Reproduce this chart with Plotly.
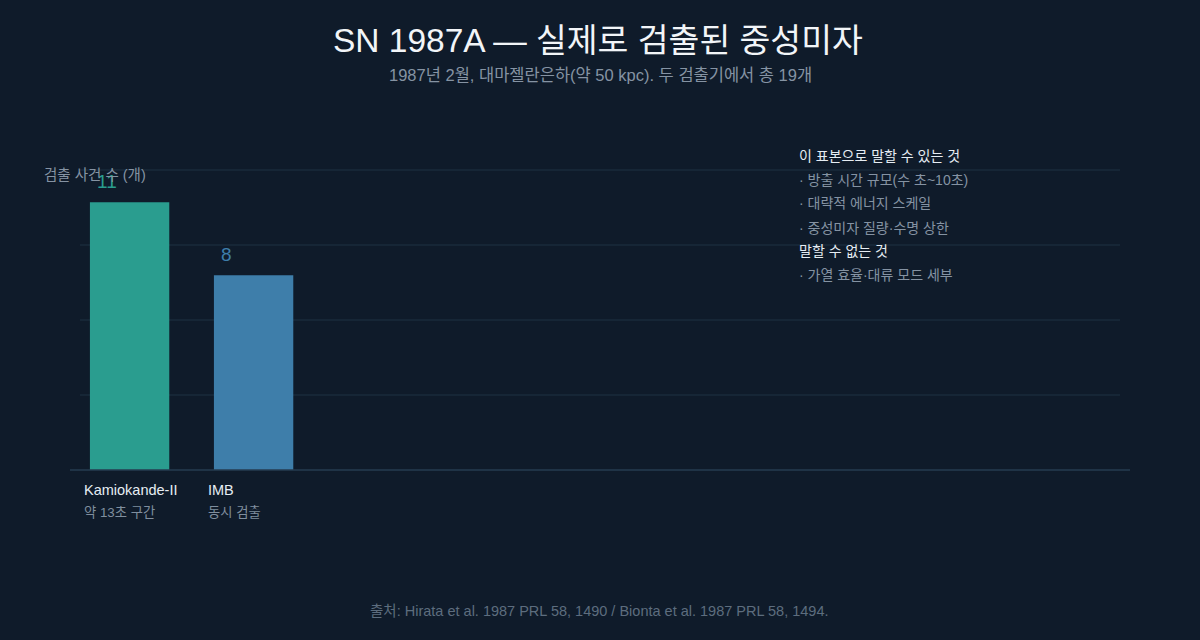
import plotly.graph_objects as go

detectors = ["Kamiokande-II", "IMB"]
events = [11, 8]
subnotes = ["약 13초 구간", "동시 검출"]
bar_colors = ["#2a9d8f", "#3e7eaa"]

can_say_title = "이 표본으로 말할 수 있는 것"
can_say = ["· 방출 시간 규모(수 초~10초)", "· 대략적 에너지 스케일", "· 중성미자 질량·수명 상한"]
cannot_title = "말할 수 없는 것"
cannot_say = ["· 가열 효율·대류 모드 세부"]

FONT = "Liberation Sans, Noto Sans CJK KR, sans-serif"
BG = "#0f1b2a"

xs = list(range(len(detectors)))
ymax = max(events) * 1.12

fig = go.Figure()
fig.add_trace(go.Bar(x=xs, y=events, marker=dict(color=bar_colors, line=dict(width=0)),
                     width=0.64, hoverinfo="skip"))

ann = []
for i, (d, v, s, c) in enumerate(zip(detectors, events, subnotes, bar_colors)):
    ann.append(dict(x=i, y=v, xref="x", yref="y", text=str(v), showarrow=False,
                    xanchor="left", yanchor="bottom", xshift=-35, yshift=8,
                    font=dict(family=FONT, size=19, color=c)))
    ann.append(dict(x=i, y=0, xref="x", yref="y", text=d, showarrow=False,
                    xanchor="left", yanchor="middle", xshift=-48, yshift=-20,
                    font=dict(family=FONT, size=14.5, color="#e6edf3")))
    ann.append(dict(x=i, y=0, xref="x", yref="y", text=s, showarrow=False,
                    xanchor="left", yanchor="middle", xshift=-48, yshift=-42,
                    font=dict(family=FONT, size=13.3, color="#7f8e9e")))

# axis title
ann.append(dict(x=42, y=175, xref="paper", yref="paper", text="검출 사건 수 (개)",
                showarrow=False, xanchor="left", yanchor="middle",
                font=dict(family=FONT, size=14.5, color="#8593a3")))

# right panel
panel_y = [156, 180, 203, 228, 251, 275]
panel_txt = [can_say_title] + can_say + [cannot_title] + cannot_say
panel_col = ["#e6edf3", "#8593a3", "#8593a3", "#8593a3", "#e6edf3", "#8593a3"]
for yy, t, col in zip(panel_y, panel_txt, panel_col):
    ann.append(dict(x=797, y=yy, text=t, showarrow=False, xanchor="left", yanchor="middle",
                    font=dict(family=FONT, size=14, color=col)))

# title, subtitle, footer
ann.append(dict(x=598, y=40, text="SN 1987A — 실제로 검출된 중성미자", showarrow=False,
                xanchor="center", yanchor="middle", font=dict(family=FONT, size=33.5, color="#f2f5f8")))
ann.append(dict(x=600, y=75, text="1987년 2월, 대마젤란은하(약 50 kpc). 두 검출기에서 총 19개",
                showarrow=False, xanchor="center", yanchor="middle",
                font=dict(family=FONT, size=16.5, color="#8593a3")))
ann.append(dict(x=599, y=611, text="출처: Hirata et al. 1987 PRL 58, 1490 / Bionta et al. 1987 PRL 58, 1494.",
                showarrow=False, xanchor="center", yanchor="middle",
                font=dict(family=FONT, size=14.5, color="#5d6d7e")))

# convert pixel-positioned paper annotations
W, H = 1200, 640
L, R, T, B = 80, 80, 170, 170
pw, ph = W - L - R, H - T - B
for a in ann:
    if a.get("xref") is None:
        a["xref"] = "paper"; a["yref"] = "paper"
    if a["xref"] == "paper":
        a["x"] = (a["x"] - L) / pw
        a["y"] = (H - B - a["y"]) / ph

# gridlines at quarters of the plot height
shapes = []
for f in [0.25, 0.5, 0.75, 1.0]:
    shapes.append(dict(type="line", xref="paper", yref="paper", x0=0, x1=1, y0=f, y1=f,
                       line=dict(color="#1e3243", width=1), layer="below"))
shapes.append(dict(type="line", xref="paper", yref="paper", x0=-10 / pw, x1=1 + 10 / pw, y0=0, y1=0,
                   line=dict(color="#263c50", width=1.5), layer="above"))

fig.update_layout(
    width=W, height=H, autosize=False,
    paper_bgcolor=BG, plot_bgcolor=BG,
    margin=dict(l=L, r=R, t=T, b=B),
    showlegend=False,
    annotations=ann, shapes=shapes,
    xaxis=dict(range=[-0.4, -0.4 + pw / 124], showgrid=False, zeroline=False,
               showticklabels=False, fixedrange=True),
    yaxis=dict(range=[0, ymax], showgrid=False, zeroline=False, showticklabels=False,
               fixedrange=True),
    font=dict(family=FONT),
)

fig.write_html("out.html")
